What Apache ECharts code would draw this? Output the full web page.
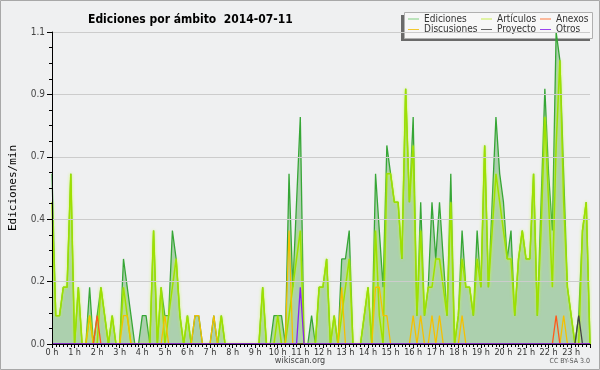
<!DOCTYPE html>
<html><head><meta charset="utf-8">
<script src="https://cdn.jsdelivr.net/npm/echarts@6/dist/echarts.min.js"></script>
<style>html,body{margin:0;padding:0;background:#eff0f1}#c{width:600px;height:370px}</style>
</head><body><div id="c"></div>
<script>
// 10-minute slots, 0:00 .. 23:50 (144 values), edits per minute
const ediciones = [
 0.6,0.1,0.1,0.2,0.2,0.6,0,0.2,0,0, 0.2,0,0.1,0.2,0.1,0,0.1,0,0,0.3,
 0.2,0.1,0,0,0.1,0.1,0,0.4,0,0.2, 0.1,0.1,0.4,0.3,0.1,0,0.1,0,0.1,0.1,
 0,0,0,0.1,0,0.1,0,0,0,0, 0,0,0,0,0,0,0.2,0,0,0.1,
 0.1,0.1,0,0.6,0.2,0.5,0.8,0,0,0.1, 0,0.2,0.2,0.3,0,0.1,0,0.3,0.3,0.4,
 0,0,0,0.1,0.2,0,0.6,0.4,0.2,0.7, 0.6,0.5,0.5,0.3,0.9,0.5,0.8,0.1,0.5,0.1,
 0.2,0.5,0.3,0.5,0.3,0.1,0.6,0,0.1,0.4, 0.2,0.2,0.1,0.4,0.2,0.7,0.2,0.5,0.8,0.6,
 0.5,0.3,0.4,0.1,0.3,0.4,0.3,0.3,0.6,0.1, 0.5,0.9,0.6,0.4,1.1,1.0,0.6,0.2,0.1,0,
 0.1,0.4,0.5,0
];
const articulos = [
 0.5,0.1,0.1,0.2,0.2,0.6,0,0.2,0,0, 0.1,0,0,0.2,0.1,0,0.1,0,0,0.2,
 0.1,0,0,0,0,0,0,0.4,0,0.2, 0,0.1,0.2,0.3,0.1,0,0.1,0,0,0,
 0,0,0,0,0,0.1,0,0,0,0, 0,0,0,0,0,0,0.2,0,0,0,
 0.1,0,0,0.1,0.2,0.3,0.4,0,0,0, 0,0.2,0.2,0.3,0,0.1,0,0.1,0.2,0.3,
 0,0,0,0.1,0.2,0,0.4,0.1,0,0.6, 0.6,0.5,0.5,0.3,0.9,0.5,0.7,0.1,0.4,0.1,
 0.2,0.2,0.3,0.3,0.2,0.1,0.5,0,0.1,0.3, 0.2,0.2,0.1,0.3,0.2,0.7,0.2,0.4,0.6,0.5,
 0.4,0.3,0.3,0.1,0.3,0.4,0.3,0.3,0.6,0.1, 0.4,0.8,0.5,0.2,0.7,1.0,0.5,0.2,0.1,0,
 0,0.4,0.5,0
];
// sparse series: slot index -> value
const discusionesSlots = [10,19,20,30,38,39,43,63,77,86,87,88,89,96,98,101,103,109,136];
const discusionesVals  = [0.1,0.1,0.1,0.1,0.1,0.1,0.1,0.4,0.2,0.2,0.2,0.1,0.1,0.1,0.1,0.1,0.1,0.1,0.1];
const anexosSlots = [12,134];
const anexosVals  = [0.1,0.1];
const proyectoSlots = [140];
const proyectoVals  = [0.1];
const otrosSlots = [66];
const otrosVals  = [0.2];
const hourLabels = ['0 h','1 h','2 h','3 h','4 h','5 h','6 h','7 h','8 h','9 h','10 h','11 h','12 h','13 h','14 h','15 h','16 h','17 h','18 h','19 h','20 h','21 h','22 h','23 h'];
const yTickLabels = ['0.0','0.2','0.4','0.7','0.9','1.1'];

const N = ediciones.length;
function full(slots, vals){ const a = new Array(N).fill(0); slots.forEach((s,k)=>{a[s]=vals[k];}); return a; }
function pts(arr){ return arr.map((v,i)=>[i,v]); }

const FC = '"DejaVu Sans Condensed","DejaVu Sans",sans-serif';
const chart = echarts.init(document.getElementById('c'), null, {renderer:'canvas'});
const thinLine = (name, data, color) => ({
  name, type:'line', data:pts(data), showSymbol:false, symbol:'none',
  lineStyle:{color, width:1.3}, itemStyle:{color}, z:3
});
chart.setOption({
  animation:false,
  backgroundColor:'#eff0f1',
  title:{text:'Ediciones por ámbito  2014-07-11', left:83, top:9,
    textStyle:{fontFamily:FC, fontWeight:'bold', fontSize:12, color:'#000'}},
  grid:{left:47, right:10, top:32, bottom:26},
  legend:[
    {data:[{name:'Ediciones',itemStyle:{color:'#7fcf7f'}},{name:'Discusiones',itemStyle:{color:'#f2c830'}}],
     left:408, top:14, orient:'vertical'},
    {data:[{name:'Artículos',itemStyle:{color:'#c6ec50'}},{name:'Proyecto',itemStyle:{color:'#666'}}],
     left:481, top:14, orient:'vertical'},
    {data:[{name:'Anexos',itemStyle:{color:'#ff7a40'}},{name:'Otros',itemStyle:{color:'#9a44ee'}}],
     left:540, top:14, orient:'vertical'}
  ].map(l=>Object.assign(l,{icon:'rect', itemWidth:11, itemHeight:1, itemGap:0.5, selectedMode:false, padding:0,
     textStyle:{fontFamily:FC, fontSize:10, color:'#333', lineHeight:10}})),
  graphic:[
    {type:'rect', z:-1, shape:{x:0.5,y:0.5,width:599,height:369}, style:{fill:'none', stroke:'#a8a8a8', lineWidth:1}},
    {type:'rect', z:0, shape:{x:401,y:15,width:189,height:26}, style:{fill:'#6a6a6a'}},
    {type:'rect', z:1, shape:{x:404.5,y:12.5,width:188,height:26}, style:{fill:'#f7f7f7', stroke:'#b0b0b0', lineWidth:1}},
    {type:'text', left:'center', top:356, style:{text:'wikiscan.org', fontFamily:FC, fontSize:9, fill:'#444'}},
    {type:'text', right:10, top:358, style:{text:'CC BY-SA 3.0', fontFamily:FC, fontSize:7, fill:'#555'}}
  ],
  xAxis:{type:'value', min:0, max:N-1, interval:6, z:10,
    axisLine:{lineStyle:{color:'#000', width:1}},
    axisTick:{length:4, lineStyle:{color:'#000'}},
    minorTick:{show:true, splitNumber:6, length:3, lineStyle:{color:'#000'}},
    splitLine:{show:false},
    axisLabel:{margin:4, fontFamily:FC, fontSize:9, color:'#333', showMaxLabel:false,
      formatter:v=> (v%6===0 && hourLabels[v/6]!==undefined) ? hourLabels[v/6] : ''}},
  yAxis:{type:'value', min:0, max:1.1, interval:0.22, z:10,
    name:'Ediciones/min', nameLocation:'middle', nameGap:33, nameRotate:90,
    nameTextStyle:{fontFamily:'"DejaVu Sans Mono",monospace', fontSize:11, color:'#000'},
    axisLine:{show:true, lineStyle:{color:'#000', width:1}},
    axisTick:{show:true, length:5, lineStyle:{color:'#000'}},
    minorTick:{show:true, splitNumber:4, length:3, lineStyle:{color:'#000'}},
    splitLine:{lineStyle:{color:'#cccccc', width:1}},
    axisLabel:{margin:7, fontFamily:FC, fontSize:10, color:'#444',
      formatter:(v,i)=>yTickLabels[i]!==undefined?yTickLabels[i]:''}},
  series:[
    {name:'Ediciones', type:'line', data:pts(ediciones), showSymbol:false, symbol:'none', z:2,
     lineStyle:{color:'#36a636', width:1.3}, itemStyle:{color:'#7fcf7f'},
     areaStyle:{color:'rgba(50,150,50,0.5)'}},
    {name:'Artículos', type:'line', data:pts(articulos), showSymbol:false, symbol:'none', z:2,
     lineStyle:{color:'#9ee000', width:1.5, shadowColor:'rgba(200,255,60,0.9)', shadowBlur:3},
     itemStyle:{color:'#c6ec50'}},
    thinLine('Discusiones', full(discusionesSlots, discusionesVals), '#f5c000'),
    thinLine('Anexos', full(anexosSlots, anexosVals), '#ff5a1a'),
    thinLine('Proyecto', full(proyectoSlots, proyectoVals), '#444444'),
    thinLine('Otros', full(otrosSlots, otrosVals), '#8a22f0')
  ]
});
</script></body></html>
